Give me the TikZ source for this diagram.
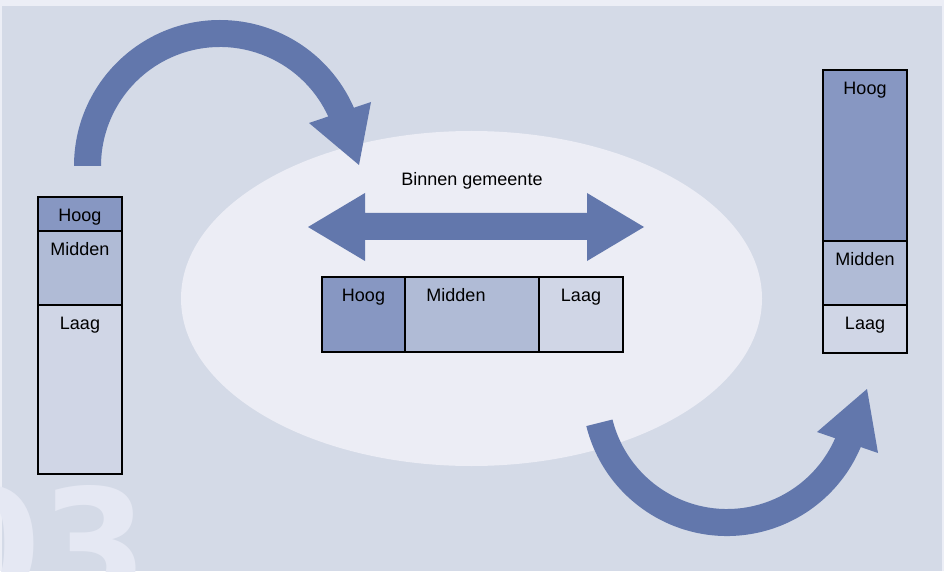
\documentclass[tikz,border=0pt]{standalone}
\usepackage{fontspec}
\usetikzlibrary{calc}
\setmainfont{Liberation Sans}
\newfontfamily\numfont{DejaVu Sans}
\definecolor{pagebg}{HTML}{ECEEF6}
\definecolor{mainbg}{HTML}{D4DAE7}
\definecolor{ellcol}{HTML}{ECEDF5}
\definecolor{numcol}{HTML}{E5E8F3}
\definecolor{arrowblue}{HTML}{6277AC}
\definecolor{hoogcol}{HTML}{8797C2}
\definecolor{middencol}{HTML}{B0BBD6}
\definecolor{laagcol}{HTML}{D0D6E6}
\begin{document}
\begin{tikzpicture}[x=1pt,y=1pt,
  cell/.style={draw=black,line width=1.3pt,inner sep=0pt,outer sep=0pt},
  lbl/.style={anchor=base,inner sep=0pt,text=black,font=\fontsize{18}{21}\selectfont},
  arrowfill/.style={fill=arrowblue}]
\useasboundingbox (0,0) rectangle (944,571);
\clip (0,0) rectangle (944,571);
% backgrounds
\fill[pagebg] (0,0) rectangle (944,571);
\fill[mainbg] (2,0) rectangle (942,565);
\node[anchor=base east,inner sep=0pt,text=numcol,font=\numfont\bfseries\fontsize{155}{160}\selectfont] (num) at (149,-29) {03};
\fill[ellcol] (471.5,272.5) ellipse [x radius=290.5, y radius=167.5];
% top-left curved arrow
\fill[arrowfill] ($(220,405)+(180:146)$) arc[start angle=180,end angle=22,radius=146]
  -- ($(220,405)+(22:119)$) arc[start angle=22,end angle=180,radius=119] -- cycle;
\fill[arrowfill] (309,448) -- (371,469) -- (359,406) -- cycle;
% bottom-right curved arrow
\fill[arrowfill] ($(727,180)+(194:145)$) arc[start angle=194,end angle=339,radius=145]
  -- ($(727,180)+(339:118)$) arc[start angle=339,end angle=194,radius=118] -- cycle;
\fill[arrowfill] (817,139) -- (878,118) -- (867,182) -- cycle;
% double arrow
\fill[arrowfill] (308,344) -- (365,378) -- (365,358) -- (587,358) -- (587,378) -- (644,344)
  -- (587,310) -- (587,331) -- (365,331) -- (365,310) -- cycle;
\node[lbl] (binnen) at (472,385) {Binnen gemeente};
% left column
\node[cell,fill=hoogcol,minimum width=84pt,minimum height=34pt] (lh) at (80,357) {};
\node[cell,fill=middencol,minimum width=84pt,minimum height=74pt] (lm) at (80,303) {};
\node[cell,fill=laagcol,minimum width=84pt,minimum height=169pt] (ll) at (80,181.5) {};
\node[lbl] (lht) at ([yshift=-24.3pt]lh.north) {Hoog};
\node[lbl] (lmt) at ([yshift=-24.3pt]lm.north) {Midden};
\node[lbl] (llt) at ([yshift=-24.3pt]ll.north) {Laag};
% center row
\node[cell,fill=hoogcol,minimum width=83pt,minimum height=75pt] (ch) at (363.5,256.5) {};
\node[cell,fill=middencol,minimum width=134pt,minimum height=75pt] (cm) at (472,256.5) {};
\node[cell,fill=laagcol,minimum width=84pt,minimum height=75pt] (cl) at (581,256.5) {};
\node[lbl] (cht) at ([yshift=-24.7pt]ch.north) {Hoog};
\node[lbl] (cmt) at ([xshift=-16pt,yshift=-24.7pt]cm.north) {Midden};
\node[lbl] (clt) at ([yshift=-24.7pt]cl.north) {Laag};
% right column
\node[cell,fill=hoogcol,minimum width=84pt,minimum height=171pt] (rh) at (865,415.5) {};
\node[cell,fill=middencol,minimum width=84pt,minimum height=64pt] (rm) at (865,298) {};
\node[cell,fill=laagcol,minimum width=84pt,minimum height=48pt] (rl) at (865,242) {};
\node[lbl] (rht) at ([yshift=-24.3pt]rh.north) {Hoog};
\node[lbl] (rmt) at ([yshift=-24.3pt]rm.north) {Midden};
\node[lbl] (rlt) at ([yshift=-24.3pt]rl.north) {Laag};
\end{tikzpicture}
\end{document}
